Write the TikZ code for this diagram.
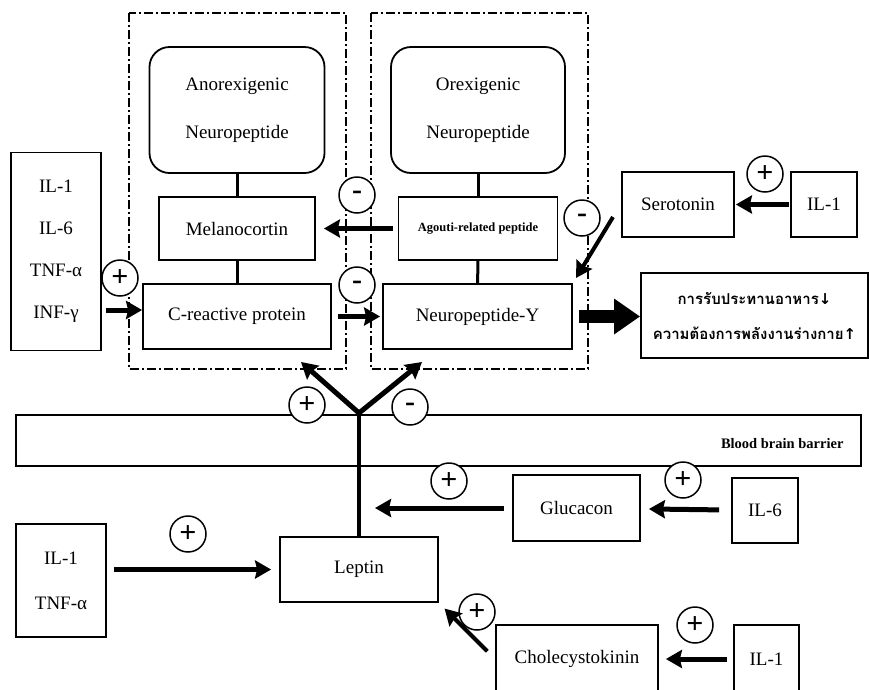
\documentclass[tikz,border=0pt]{standalone}
\usepackage{fontspec}
\setmainfont{Liberation Serif}
\newfontfamily\thaifont[Script=Thai]{Loma}
\newfontfamily\arrowfont{DejaVu Sans}
\usetikzlibrary{arrows.meta}

\tikzset{
	box/.style={rectangle, draw, line width=1.8pt, align=center, inner sep=0pt},
	peptide/.style={box, rounded corners=20pt},
	sign/.style={circle, draw, line width=1.5pt, fill=white, minimum size=36pt, inner sep=0pt, font=\bfseries\fontsize{30}{30}\selectfont},
	arr/.style={line width=5pt, -{Stealth[length=16pt,width=18pt,inset=2pt]}},
	bigarr/.style={line width=13pt, -{Triangle[length=26pt,width=34pt]}},
	link/.style={line width=3pt},
	region/.style={draw, line width=1.5pt, dash pattern=on 9pt off 3pt on 2pt off 3pt}
}

\begin{document}
\begin{tikzpicture}[x=1pt, y=-1pt, font=\fontsize{19}{22}\selectfont]
	\useasboundingbox (0,0) rectangle (869,689);
	% hypothalamus regions
	\draw[region] (129,13) rectangle (346,369);
	\draw[region] (371,13) rectangle (588,369);
	\node (bbb) at (438.5,440.5)	[box, minimum width=845, minimum height=51]	{};
	\node (bbbtext) at (847,444)	[anchor=east, font=\bfseries\fontsize{14.5}{16}\selectfont]	{Blood brain barrier};

	\node (anorex) at (237,110)	[peptide, minimum width=175, minimum height=126, font=\fontsize{19}{48}\selectfont]	{Anorexigenic\\Neuropeptide};
	\node (orex) at (478,110)	[peptide, minimum width=174, minimum height=126, font=\fontsize{19}{48}\selectfont]	{Orexigenic\\Neuropeptide};
	\node (mel) at (237,228.5)	[box, minimum width=156, minimum height=63]	{Melanocortin};
	\node (agrp) at (478,228.5)	[box, minimum width=159, minimum height=63, font=\bfseries\fontsize{12.5}{14}\selectfont]	{Agouti-related peptide};
	\node (crp) at (237,316.5)	[box, minimum width=188, minimum height=65]	{C-reactive protein};
	\node (npy) at (477.5,316.5)	[box, minimum width=189, minimum height=65]	{Neuropeptide-Y};

	\node (cyto) at (56,251.5)	[box, minimum width=90, minimum height=198, font=\fontsize{19}{42}\selectfont]	{IL-1\\IL-6\\TNF-α\\INF-γ};
	\node (ser) at (678,204.5)	[box, minimum width=112, minimum height=65]	{Serotonin};
	\node (ilA) at (824,204.5)	[box, minimum width=66, minimum height=65]	{IL-1};
	\node (intake) at (754.5,315.5)	[box, minimum width=227, minimum height=85, font=\thaifont\bfseries\fontsize{15}{35}\selectfont]	{การรับประทานอาหาร{\arrowfont↓}\\ความต้องการพลังงานร่างกาย{\arrowfont↑}};

	\node (leptin) at (359,569.5)	[box, minimum width=158, minimum height=65]	{Leptin};
	\node (cytoB) at (61,580.5)	[box, minimum width=90, minimum height=113, font=\fontsize{19}{45}\selectfont]	{IL-1\\TNF-α};
	\node (glu) at (576.5,508)	[box, minimum width=127, minimum height=66]	{Glucacon};
	\node (ilB) at (765,510.5)	[box, minimum width=66, minimum height=65]	{IL-6};
	\node (cck) at (577,659)	[box, minimum width=162, minimum height=68]	{Cholecystokinin};
	\node (ilC) at (766.5,659)	[box, minimum width=65, minimum height=68]	{IL-1};

	\coordinate (fork) at (359,413);
	\coordinate (tipL) at (301,362);
	\coordinate (tipR) at (422,362);
	\coordinate (serout) at (613,217);

	% signs
	\node (s1) at (120,278)	[sign]	{+};
	\node (s2) at (357,195)	[sign]	{-};
	\node (s3) at (357,285)	[sign]	{-};
	\node (s4) at (582,218)	[sign]	{-};
	\node (s5) at (765,174)	[sign]	{+};
	\node (s6) at (307,405)	[sign]	{+};
	\node (s7) at (410,407)	[sign]	{-};
	\node (s8) at (188,534)	[sign]	{+};
	\node (s9) at (449,481)	[sign]	{+};
	\node (s10) at (683,480)	[sign]	{+};
	\node (s11) at (477,612)	[sign]	{+};
	\node (s12) at (695,625)	[sign]	{+};

	% links and arrows
	\draw[link] (anorex) -- (mel);
	\draw[link] (mel) -- (crp);
	\draw[link] (orex) -- (agrp);
	\draw[link] (agrp) -- (npy);
	\draw[arr, shorten <=4pt] (cyto.east |- 0,310) -- (crp.west |- 0,310);
	\draw[arr, shorten <=5pt, shorten >=8pt] (agrp) -- (mel);
	\draw[arr, shorten <=6pt, shorten >=2pt] (crp) -- (npy);
	\draw[arr, shorten <=1pt, shorten >=1pt] (ilA) -- (ser);
	\draw[arr, line width=4pt, shorten >=6pt] (serout) -- (npy.north east);
	\draw[bigarr, shorten <=6pt] (npy.east) -- (npy.east -| intake.west);
	\draw[link, line width=4pt] (leptin.north) -- (fork);
	\draw[arr] (fork) -- (tipL);
	\draw[arr] (fork) -- (tipR);
	\draw[arr, shorten <=8pt, shorten >=16pt] (glu.west) -- (glu.west -| fork);
	\draw[arr, shorten <=12pt, shorten >=8pt] (ilB) -- (glu);
	\draw[arr, shorten <=7pt, shorten >=8pt] (cytoB.east |- leptin) -- (leptin);
	\draw[arr, shorten <=6pt, shorten >=7pt] (ilC) -- (cck);
	\draw[arr, line width=4pt, shorten <=11pt, shorten >=8pt] (cck.west) -- (leptin.south east);
\end{tikzpicture}
\end{document}
